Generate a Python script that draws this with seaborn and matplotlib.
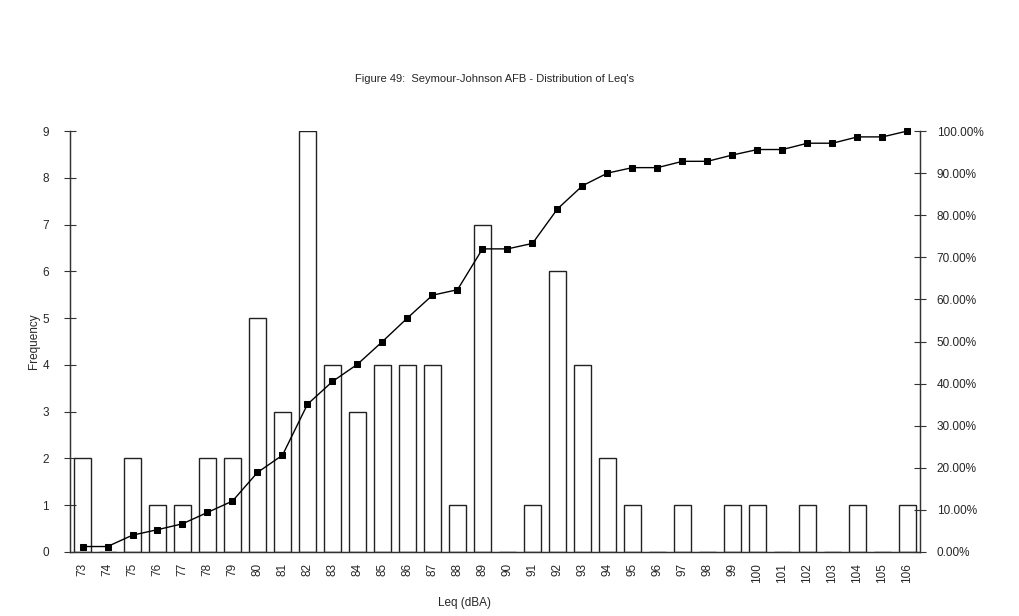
import numpy as np
import pandas as pd
import matplotlib
matplotlib.use('Agg')
import matplotlib.pyplot as plt
import seaborn as sns
from matplotlib.ticker import PercentFormatter

# values
leq = [str(v) for v in range(73, 107)]
frequency = [2, 0, 2, 1, 1, 2, 2, 5, 3, 9, 4, 3, 4, 4, 4, 1, 7, 0, 1, 6, 4, 2, 1, 0, 1, 0, 1, 1, 0, 1, 0, 1, 0, 1]
cumulative = [1.3, 1.3, 4.0, 5.3, 6.7, 9.4, 12.1, 18.9, 23.0, 35.1, 40.5, 44.6, 50.0, 55.6, 61.0, 62.3,
              72.0, 72.0, 73.3, 81.5, 87.0, 90.0, 91.3, 91.3, 92.8, 92.8, 94.3, 95.6, 95.6, 97.1, 97.1,
              98.6, 98.6, 100.0]

df = pd.DataFrame({'leq': leq, 'freq': frequency, 'pos': np.arange(len(leq)), 'cum': np.array(cumulative) / 100})

sns.set_style('white')
plt.rcParams['font.family'] = ['Liberation Sans', 'DejaVu Sans']

fig = plt.figure(figsize=(10.19, 6.16), dpi=100)
ax = fig.add_axes([70 / 1019, 1 - 552 / 616, 850 / 1019, 421 / 616])

sns.barplot(data=df, x='leq', y='freq', ax=ax, fill=False, color='#222222', width=0.65, linewidth=1.0)
ax.set_xlim(-0.5, len(leq) - 0.5)
ax.set_ylim(0, 9)
ax.set_yticks(range(0, 10))

ax2 = ax.twinx()
sns.lineplot(data=df, x='pos', y='cum', ax=ax2, color='black', linewidth=1.0,
             marker='s', markersize=5, markeredgecolor='black', markerfacecolor='black', clip_on=False)
ax2.set_ylim(0, 1.0)
ax2.set_yticks(np.linspace(0, 1, 11))
ax2.yaxis.set_major_formatter(PercentFormatter(1.0, decimals=2))
ax2.set_xlim(-0.5, len(leq) - 0.5)
ax2.set_ylabel('')

# x ticks: labels at category centres, tick marks at the boundaries
ax.set_xticks(range(len(leq)))
ax.set_xticklabels(leq, rotation=90, fontsize=8.5)
ax.set_xticks(np.arange(-0.5, len(leq), 1.0), minor=True)
ax.tick_params(axis='x', which='major', length=0, pad=8)
ax.tick_params(axis='x', which='minor', length=8, direction='inout', width=0.8, color='#333333')
ax.tick_params(axis='y', length=8, direction='inout', width=0.8, color='#333333', labelsize=8.5, pad=11)
ax2.tick_params(axis='y', length=8, direction='inout', width=0.8, color='#333333', labelsize=8.5, pad=8)

for a in (ax, ax2):
    a.spines['top'].set_visible(False)
    for s in ('left', 'right', 'bottom'):
        a.spines[s].set_color('#333333')
        a.spines[s].set_linewidth(0.9)

ax.set_xlabel('Leq (dBA)', fontsize=8.5)
ax.xaxis.set_label_coords((465 - 70) / 850, -(597 - 552) / 421)
ax.set_ylabel('Frequency', fontsize=8.5)
ax.yaxis.set_label_coords(-(70 - 40) / 850, 0.5)

fig.text(495 / 1019, 1 - 79 / 616, "Figure 49:  Seymour-Johnson AFB - Distribution of Leq's",
         ha='center', va='center', fontsize=8)

fig.savefig('out.png', dpi=100)
